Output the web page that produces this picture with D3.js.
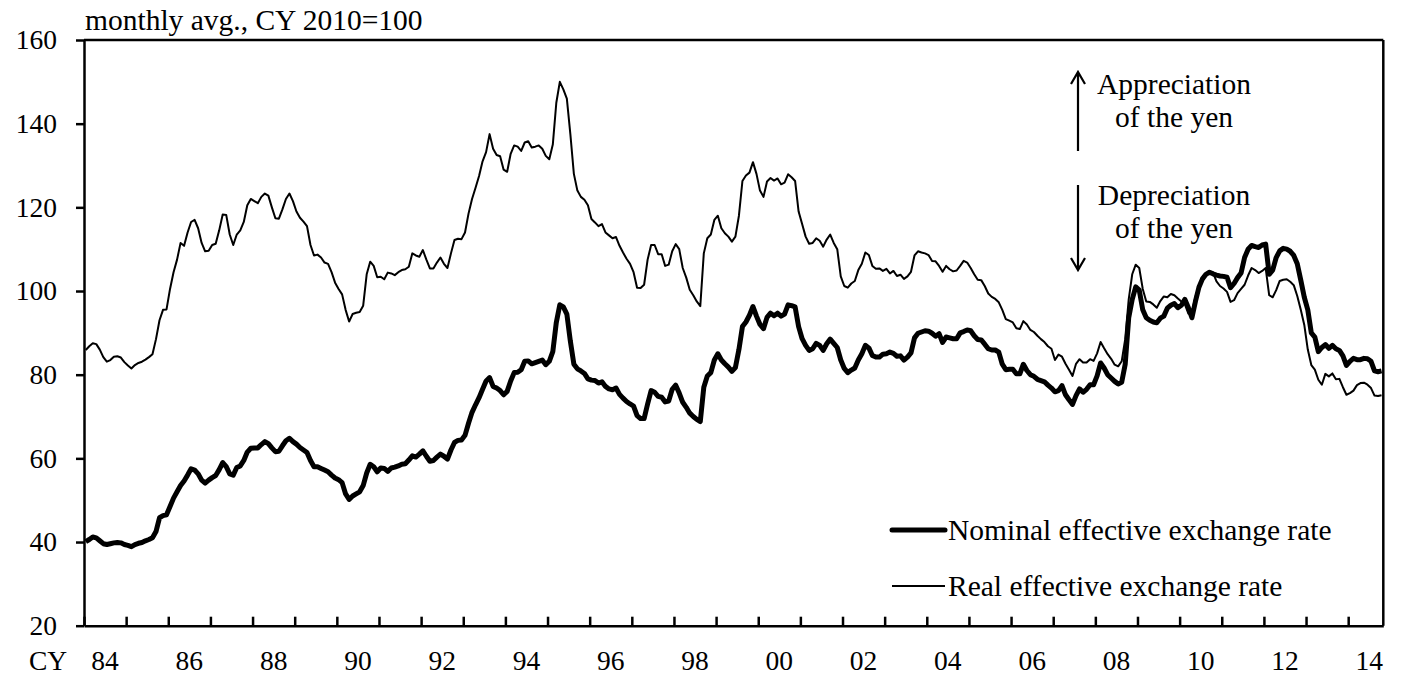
<!DOCTYPE html>
<html>
<head>
<meta charset="utf-8">
<script src="https://cdn.jsdelivr.net/npm/d3@7"></script>
<style>
  body { margin: 0; background: #fff; }
  svg { display: block; }
  text { font-family: "Liberation Serif", "Times New Roman", serif; fill: #000; }
</style>
</head>
<body>
<script>
// monthly avg., CY 2010=100, Jan 1984 - Oct 2014
var nominal = [
  40.1, 40.6, 41.2, 41.0, 40.3, 39.6, 39.4, 39.6, 39.8, 39.9, 39.8, 39.4, // 84
  39.2, 38.9, 39.4, 39.7, 39.9, 40.3, 40.6, 41.0, 42.5, 45.8, 46.3, 46.5, // 85
  48.5, 50.5, 52.0, 53.5, 54.6, 56.0, 57.5, 57.2, 56.3, 54.8, 54.1, 54.8, // 86
  55.4, 55.9, 57.3, 59.0, 58.0, 56.3, 56.0, 57.8, 58.2, 59.5, 61.5, 62.4, // 87
  62.5, 62.5, 63.3, 64.0, 63.5, 62.5, 61.6, 61.7, 63.0, 64.2, 64.8, 64.0, // 88
  63.4, 62.6, 62.0, 61.4, 59.5, 58.0, 58.0, 57.6, 57.2, 56.8, 56.0, 55.3, // 89
  54.9, 54.2, 51.5, 50.2, 51.0, 51.5, 52.0, 53.5, 56.5, 58.6, 58.0, 56.8, // 90
  57.7, 57.6, 56.9, 57.7, 57.9, 58.2, 58.6, 58.7, 59.6, 60.6, 60.3, 61.0, // 91
  61.8, 60.5, 59.3, 59.5, 60.3, 61.0, 60.5, 59.8, 62.0, 63.8, 64.3, 64.4, // 92
  65.5, 68.4, 71.0, 72.8, 74.5, 76.5, 78.5, 79.3, 77.2, 76.8, 76.2, 75.2, // 93
  76.0, 78.5, 80.5, 80.6, 81.2, 83.2, 83.3, 82.6, 82.9, 83.2, 83.5, 82.4, // 94
  83.2, 85.5, 92.5, 96.7, 96.2, 94.5, 88.0, 82.5, 81.4, 80.9, 80.3, 79.0, // 95
  78.7, 78.6, 78.0, 78.3, 77.2, 76.6, 76.4, 76.8, 75.3, 74.4, 73.6, 73.0, // 96
  72.5, 70.2, 69.5, 69.5, 73.0, 76.2, 75.8, 74.8, 74.6, 73.5, 73.7, 76.5, // 97
  77.5, 75.6, 73.4, 72.2, 70.8, 70.0, 69.3, 68.8, 77.0, 79.7, 80.5, 83.5, // 98
  85.0, 83.5, 82.6, 81.8, 80.8, 81.7, 86.0, 91.5, 92.6, 94.2, 96.3, 94.0, // 99
  92.0, 91.0, 93.7, 94.7, 94.1, 94.7, 94.0, 94.5, 96.7, 96.5, 96.2, 91.5, // 00
  88.6, 87.0, 85.8, 86.2, 87.5, 87.0, 85.8, 87.4, 88.5, 87.5, 86.5, 83.5, // 01
  81.5, 80.5, 81.1, 81.6, 83.5, 85.0, 87.0, 86.4, 84.6, 84.2, 84.2, 84.9, // 02
  85.0, 85.4, 85.1, 84.4, 84.5, 83.5, 84.2, 85.2, 88.8, 89.9, 90.2, 90.5, // 03
  90.4, 89.9, 89.2, 89.8, 87.7, 89.0, 88.8, 88.6, 88.6, 90.0, 90.3, 90.7, // 04
  90.5, 89.3, 88.4, 88.3, 87.3, 86.2, 85.9, 85.9, 85.4, 82.5, 81.2, 81.3, // 05
  81.3, 80.2, 80.2, 82.5, 81.0, 80.0, 79.6, 78.9, 78.6, 78.3, 77.5, 76.8, // 06
  75.9, 76.2, 77.4, 75.2, 74.0, 72.9, 75.0, 76.6, 75.8, 76.5, 77.6, 77.6, // 07
  79.7, 82.8, 81.6, 80.0, 79.2, 78.4, 77.8, 78.2, 82.5, 93.6, 98.0, 101.0, // 08
  100.2, 95.5, 93.6, 93.0, 92.6, 92.4, 93.5, 94.0, 95.9, 96.6, 97.0, 96.0, // 09
  96.6, 98.0, 96.0, 93.6, 97.5, 100.9, 102.9, 104.0, 104.5, 104.1, 103.8, 103.6, // 10
  103.5, 103.3, 100.8, 101.8, 103.2, 104.3, 108.0, 110.0, 110.9, 110.6, 110.4, 111.0, // 11
  111.2, 104.0, 105.0, 108.0, 109.6, 110.2, 110.0, 109.5, 108.5, 106.5, 102.6, 98.5, // 12
  95.5, 90.0, 89.0, 85.5, 86.5, 87.2, 86.3, 87.0, 86.2, 85.8, 84.5, 82.2, // 13
  83.2, 83.9, 83.6, 83.6, 83.9, 83.8, 83.2, 80.9, 80.7, 80.9 // 14
];

var real = [
  85.9, 86.8, 87.5, 87.3, 86.0, 84.2, 83.1, 83.5, 84.3, 84.4, 84.1, 83.0, // 84
  82.2, 81.5, 82.3, 82.8, 83.1, 83.6, 84.2, 84.9, 88.5, 93.0, 95.5, 95.6, // 85
  100.5, 104.5, 107.5, 111.5, 110.8, 114.0, 116.5, 117.0, 115.0, 111.5, 109.5, 109.6, // 86
  111.0, 111.3, 114.5, 118.3, 118.2, 113.5, 111.0, 113.5, 114.5, 116.5, 120.5, 122.0, // 87
  121.5, 121.0, 122.5, 123.3, 122.8, 120.0, 117.4, 117.3, 119.5, 122.0, 123.3, 121.5, // 88
  119.0, 117.5, 116.6, 115.5, 111.0, 108.5, 108.7, 108.0, 106.8, 106.5, 104.5, 102.0, // 89
  100.5, 99.2, 95.5, 92.7, 94.5, 94.8, 95.0, 96.5, 104.0, 107.0, 106.0, 103.3, // 90
  103.4, 102.8, 104.4, 104.2, 103.8, 104.5, 105.0, 105.2, 105.8, 109.0, 108.5, 108.2, // 91
  109.8, 107.5, 105.4, 105.4, 106.8, 108.0, 106.5, 105.5, 109.0, 112.2, 112.5, 112.4, // 92
  114.0, 118.5, 122.0, 124.7, 127.5, 131.0, 133.2, 137.5, 134.0, 132.5, 132.2, 129.0, // 93
  128.5, 132.8, 134.8, 134.5, 133.5, 135.5, 135.8, 134.3, 134.5, 134.8, 134.0, 132.3, // 94
  131.5, 135.0, 145.0, 150.0, 148.2, 146.0, 137.5, 128.0, 124.0, 122.5, 121.8, 120.5, // 95
  117.2, 116.4, 115.5, 116.0, 114.0, 113.3, 112.6, 112.9, 110.8, 109.2, 107.7, 106.5, // 96
  104.5, 100.8, 100.7, 101.5, 107.5, 111.0, 111.0, 108.8, 108.8, 106.0, 106.3, 109.5, // 97
  111.2, 110.0, 105.5, 103.2, 100.3, 99.0, 97.5, 96.4, 109.0, 112.6, 113.5, 117.0, // 98
  118.0, 115.0, 113.8, 113.0, 111.8, 113.0, 118.0, 126.3, 127.6, 128.3, 130.8, 128.0, // 99
  124.0, 122.5, 126.2, 127.0, 126.4, 126.9, 125.5, 125.9, 127.9, 127.2, 126.3, 119.0, // 00
  116.0, 113.0, 111.3, 111.5, 112.6, 112.0, 110.6, 112.3, 113.5, 111.5, 110.0, 103.5, // 01
  101.2, 100.8, 101.8, 102.4, 105.0, 106.5, 109.2, 108.6, 106.0, 105.3, 105.4, 104.8, // 02
  105.3, 104.2, 104.8, 103.6, 103.9, 102.9, 103.5, 104.6, 108.5, 109.5, 109.2, 109.0, // 03
  108.6, 107.2, 107.1, 106.0, 104.6, 106.0, 105.2, 104.7, 104.9, 106.0, 107.2, 106.8, // 04
  105.5, 104.0, 102.7, 102.6, 101.2, 99.4, 98.6, 98.1, 97.3, 95.5, 93.3, 92.9, // 05
  92.5, 91.1, 90.9, 92.8, 92.0, 90.7, 90.2, 89.3, 88.5, 87.8, 86.8, 86.2, // 06
  83.5, 84.8, 84.3, 82.6, 81.2, 79.7, 82.6, 83.7, 82.9, 82.9, 83.7, 83.3, // 07
  85.1, 87.8, 86.3, 84.9, 83.8, 82.4, 82.0, 83.2, 88.5, 98.0, 104.0, 106.3, // 08
  105.5, 100.5, 97.5, 97.4, 96.8, 96.0, 97.6, 98.7, 98.5, 99.3, 99.0, 98.2, // 09
  97.5, 96.8, 94.6, 95.0, 98.6, 101.2, 103.0, 104.0, 104.5, 104.4, 102.3, 101.2, // 10
  100.6, 99.8, 97.4, 97.8, 99.5, 100.5, 101.5, 103.7, 105.5, 105.0, 104.3, 104.8, // 11
  105.5, 99.0, 98.5, 100.2, 102.4, 102.7, 102.8, 102.2, 101.4, 98.8, 95.5, 91.9, // 12
  86.0, 82.3, 81.2, 78.8, 77.6, 80.2, 79.6, 80.3, 78.9, 79.0, 77.0, 75.2, // 13
  75.6, 76.2, 77.5, 78.0, 78.1, 77.6, 76.8, 75.0, 74.9, 75.1 // 14
];

var yearLabels = ["84", "86", "88", "90", "92", "94", "96", "98", "00", "02", "04", "06", "08", "10", "12", "14"];
var yTicks = [20, 40, 60, 80, 100, 120, 140, 160];
var seriesNames = ["Nominal effective exchange rate", "Real effective exchange rate"];

(function(){

  var width = 1401, height = 675;
  var left = 84, right = 1383.3, top = 40, bottom = 625.7;

  var svg = d3.select("body").append("svg")
    .attr("width", width)
    .attr("height", height);

  // one category per month, points sit in the middle of each slot
  var x = d3.scaleLinear()
    .domain([0, nominal.length])
    .range([left, right]);

  var y = d3.scaleLinear()
    .domain([20, 160])
    .range([bottom, top]);

  var line = d3.line()
    .x(function(d, i){ return x(i + 0.5); })
    .y(function(d){ return y(d); });

  svg.append("path")
    .datum(real)
    .attr("fill", "none")
    .attr("stroke", "#000")
    .attr("stroke-width", 2)
    .attr("stroke-linejoin", "round")
    .attr("d", line);

  svg.append("path")
    .datum(nominal)
    .attr("fill", "none")
    .attr("stroke", "#000")
    .attr("stroke-width", 5)
    .attr("stroke-linejoin", "round")
    .attr("d", line);

  //left axis, ticks outward
  var yAxis = d3.axisLeft(y)
    .tickValues(yTicks)
    .tickSize(8)
    .tickSizeOuter(0)
    .tickPadding(19);

  var gy = svg.append("g")
    .attr("transform", "translate(" + left + ",0)")
    .call(yAxis);
  gy.selectAll("path, line").attr("stroke", "#000").attr("stroke-width", 2.5);
  gy.selectAll("text")
    .style("font-family", "'Liberation Serif', 'Times New Roman', serif")
    .style("font-size", "27.5px")
    .attr("fill", "#000");

  //bottom axis, year boundaries, ticks inward
  var yearStarts = d3.range(0, nominal.length, 12);
  var xAxis = d3.axisBottom(x)
    .tickValues(yearStarts)
    .tickSize(-9)
    .tickSizeOuter(0)
    .tickFormat("");

  var gx = svg.append("g")
    .attr("transform", "translate(0," + bottom + ")")
    .call(xAxis);
  gx.selectAll("path, line").attr("stroke", "#000").attr("stroke-width", 2.5);

  //top and right frame
  svg.append("line")
    .attr("x1", left).attr("x2", right)
    .attr("y1", top).attr("y2", top)
    .attr("stroke", "#000").attr("stroke-width", 2.5);
  svg.append("line")
    .attr("x1", right).attr("x2", right)
    .attr("y1", top).attr("y2", bottom)
    .attr("stroke", "#000").attr("stroke-width", 2.5);

  //year labels centred on the year
  svg.selectAll(".yearLabel")
    .data(yearLabels)
    .enter()
    .append("text")
    .attr("class", "yearLabel")
    .attr("x", function(d, i){ return x(i * 24 + 6); })
    .attr("y", 670)
    .attr("text-anchor", "middle")
    .style("font-size", "27.5px")
    .text(function(d){ return d; });

  svg.append("text")
    .attr("x", 29)
    .attr("y", 670)
    .style("font-size", "27.5px")
    .text("CY");

  svg.append("text")
    .attr("x", 85)
    .attr("y", 30)
    .style("font-size", "29.5px")
    .text("monthly avg., CY 2010=100");

  //appreciation / depreciation notes
  var ax = 1078;
  svg.append("path")
    .attr("d", "M" + ax + ",151V72M" + (ax - 7) + ",84L" + ax + ",72L" + (ax + 7) + ",84")
    .attr("fill", "none").attr("stroke", "#000").attr("stroke-width", 2.2);
  svg.append("path")
    .attr("d", "M" + ax + ",185V270M" + (ax - 7) + ",258L" + ax + ",270L" + (ax + 7) + ",258")
    .attr("fill", "none").attr("stroke", "#000").attr("stroke-width", 2.2);

  var notes = [["Appreciation", 94], ["of the yen", 127], ["Depreciation", 205], ["of the yen", 238]];
  svg.selectAll(".note")
    .data(notes)
    .enter()
    .append("text")
    .attr("class", "note")
    .attr("x", 1174)
    .attr("y", function(d){ return d[1]; })
    .attr("text-anchor", "middle")
    .style("font-size", "29.5px")
    .text(function(d){ return d[0]; });

  //legend
  var legend = svg.selectAll(".legend")
    .data(seriesNames)
    .enter()
    .append("g")
    .attr("class", "legend")
    .attr("transform", function(d, i){ return "translate(892," + (530 + i * 56) + ")"; });

  legend.append("line")
    .attr("x1", 0).attr("x2", 53)
    .attr("stroke", "#000")
    .attr("stroke-width", function(d, i){ return i == 0 ? 5 : 2; })
    .attr("stroke-linecap", function(d, i){ return i == 0 ? "round" : "butt"; });

  legend.append("text")
    .attr("x", 56)
    .attr("y", 10)
    .style("font-size", "29.5px")
    .text(function(d){ return d; });

})();
</script>
</body>
</html>
